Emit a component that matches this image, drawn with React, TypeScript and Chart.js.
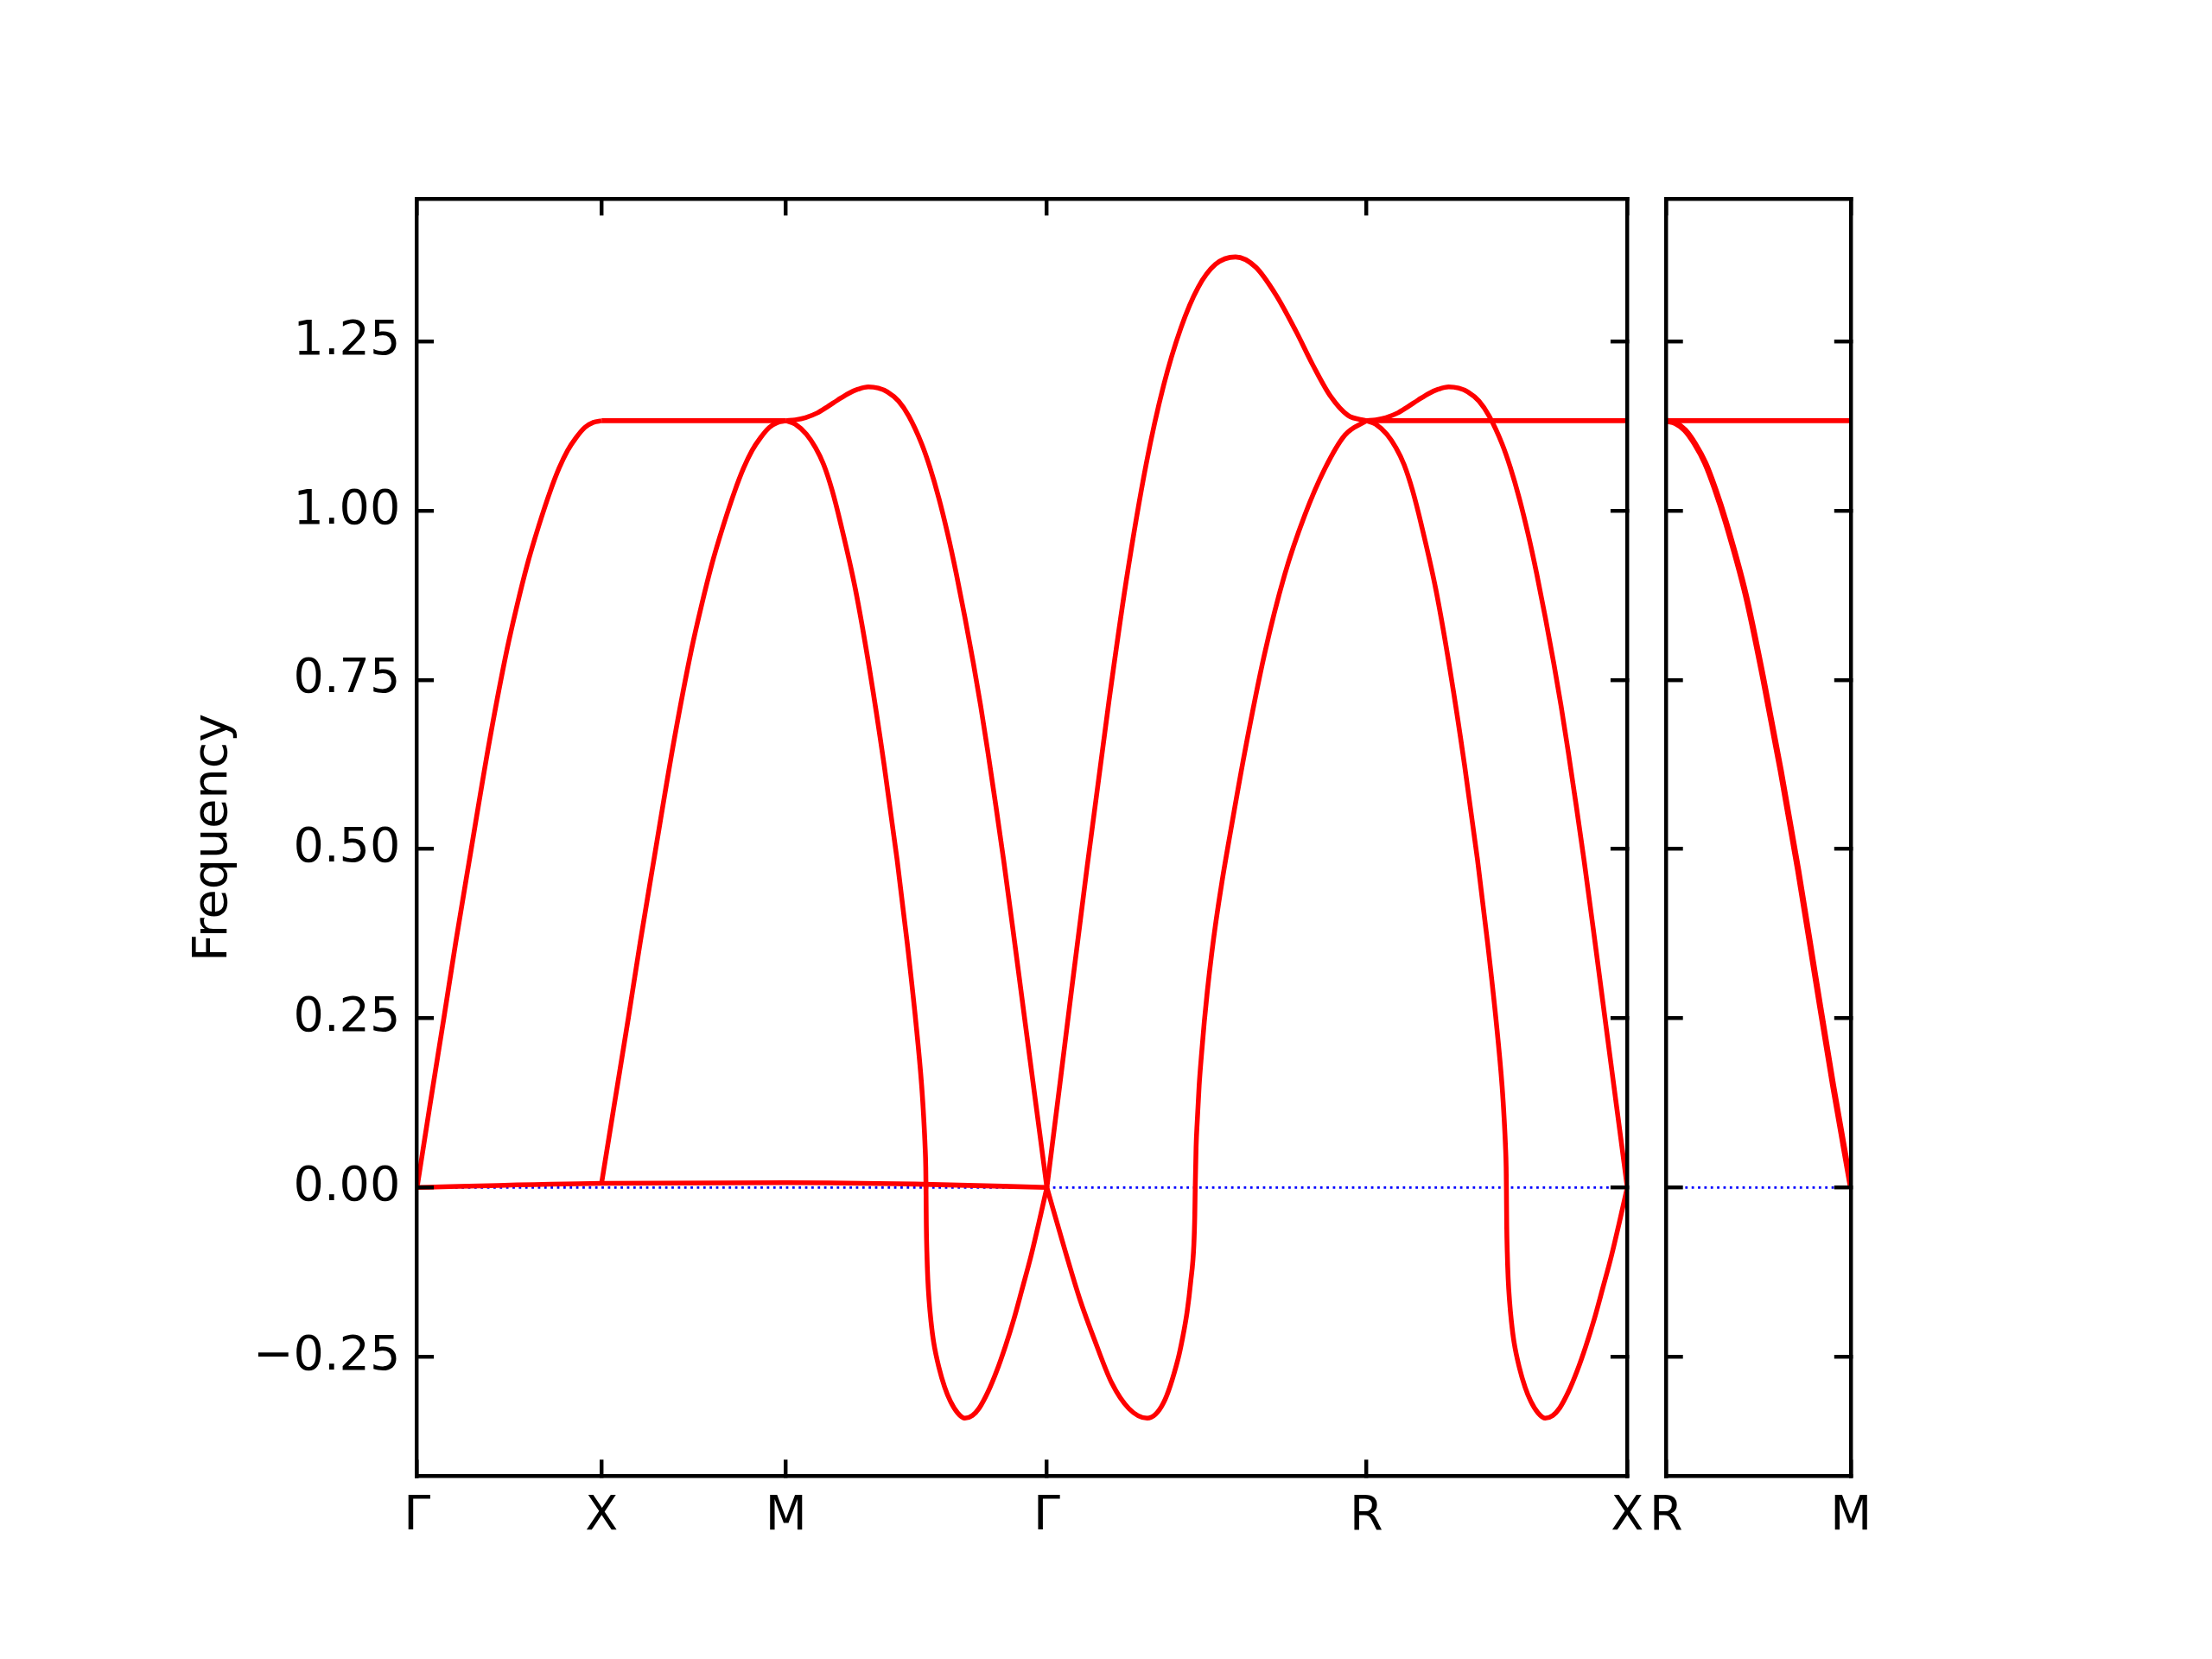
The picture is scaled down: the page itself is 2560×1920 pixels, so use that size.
import { useEffect, useRef } from 'react';
import { Chart, registerables } from 'chart.js';

Chart.register(...registerables);

// ---------------- path ticks (cumulative |k| along the path) ----------------
const mainTickPos = [0, 1, 2, 3.4142, 5.1463, 6.5605];
const mainTickLabels = ['Γ', 'X', 'M', 'Γ', 'R', 'X'];
const sideTickPos = [0, 1];
const sideTickLabels = ['R', 'M'];

// ---------------- frequency axis ----------------
const freqMin = -0.427;
const freqMax = 1.461;
const freqStep = 0.25;
const freqTitle = 'Frequency';

// ---------------- bands: Γ → X ----------------
const gxRiseK = [0, 0.07, 0.145, 0.21, 0.28, 0.394, 0.4875, 0.54, 0.597, 0.66, 0.722, 0.77, 0.816, 0.862, 0.909, 0.955, 1];
const gxRiseF = [0, 0.122, 0.25, 0.363, 0.478, 0.662, 0.795, 0.858, 0.92, 0.978, 1.029, 1.063, 1.089, 1.108, 1.123, 1.1305, 1.133];

// near-zero band Γ → X → M → Γ
const lowBandK = [0, 1, 2, 2.7, 3.4142];
const lowBandF = [0, 0.006, 0.007, 0.005, 0];

// ---------------- bands: X → M ----------------
const xmFlatK = [1, 2];
const xmFlatF = [1.133, 1.133];
const xmRiseK = [1, 1.07, 1.145, 1.21, 1.28, 1.394, 1.4875, 1.54, 1.597, 1.66, 1.722, 1.77, 1.816, 1.862, 1.909, 1.955, 2];
const xmRiseF = [0.006, 0.124, 0.25, 0.363, 0.478, 0.662, 0.795, 0.858, 0.92, 0.978, 1.029, 1.063, 1.089, 1.108, 1.123, 1.1305, 1.133];

// ---------------- bands: M → Γ ----------------
const mgBumpK = [2, 2.05, 2.106, 2.17, 2.224, 2.28, 2.34, 2.39, 2.446, 2.5, 2.55, 2.61, 2.665, 2.735, 2.78, 2.829, 2.876, 2.923, 2.97, 3.016, 3.055, 3.094, 3.137, 3.18, 3.238, 3.3, 3.36, 3.4142];
const mgBumpF = [1.133, 1.1343, 1.1376, 1.1445, 1.1535, 1.1635, 1.1735, 1.1795, 1.183, 1.1812, 1.1755, 1.162, 1.14, 1.099, 1.064, 1.018, 0.966, 0.907, 0.842, 0.774, 0.712, 0.644, 0.565, 0.483, 0.365, 0.236, 0.112, 0];
const mgDipK = [2, 2.05, 2.1105, 2.16, 2.2042, 2.25, 2.2979, 2.3761, 2.4543, 2.5321, 2.6023, 2.6571, 2.704, 2.7354, 2.747, 2.754, 2.7575, 2.7588, 2.7605, 2.7635, 2.7685, 2.776, 2.786, 2.8, 2.829, 2.86, 2.8913, 2.93, 2.9696, 3.01, 3.0473, 3.095, 3.141, 3.19, 3.2347, 3.28, 3.3283, 3.37, 3.4142];
const mgDipF = [1.133, 1.128, 1.113, 1.093, 1.068, 1.03, 0.979, 0.884, 0.763, 0.624, 0.484, 0.361, 0.244, 0.15, 0.1, 0.06, 0.03, 0, -0.055, -0.095, -0.135, -0.168, -0.198, -0.228, -0.266, -0.295, -0.316, -0.333, -0.341, -0.337, -0.326, -0.302, -0.272, -0.234, -0.195, -0.15, -0.101, -0.053, 0];

// ---------------- bands: Γ → R ----------------
const grPeakK = [3.4142, 3.4848, 3.5471, 3.6328, 3.7499, 3.8435, 3.9532, 4.0468, 4.1405, 4.2342, 4.3279, 4.437, 4.5461, 4.6557, 4.7649, 4.8585, 4.9522, 5.0459, 5.1463];
const grPeakF = [0, 0.153, 0.29, 0.475, 0.717, 0.895, 1.07, 1.185, 1.27, 1.33, 1.364, 1.375, 1.36, 1.319, 1.265, 1.214, 1.169, 1.141, 1.133];
const grDipK = [3.4142, 3.5157, 3.5939, 3.6721, 3.7658, 3.8595, 3.9578, 4.0468, 4.1246, 4.15, 4.1747, 4.1935, 4.2108, 4.216, 4.2183, 4.223, 4.2291, 4.2394, 4.2525, 4.2675, 4.2839, 4.3073, 4.3307, 4.3635, 4.4009, 4.4866, 4.593, 4.7026, 4.8117, 4.9208, 5.0304, 5.1463];
const grDipF = [0, -0.096, -0.166, -0.225, -0.289, -0.327, -0.341, -0.318, -0.254, -0.222, -0.183, -0.14, -0.085, -0.04, 0, 0.06, 0.097, 0.15, 0.197, 0.245, 0.29, 0.345, 0.393, 0.452, 0.512, 0.643, 0.787, 0.905, 0.993, 1.062, 1.112, 1.133];

// ---------------- bands: R → X ----------------
const rxFlatK = [5.1463, 6.5605];
const rxFlatF = [1.133, 1.133];
const rxBumpK = [5.1463, 5.1963, 5.2523, 5.3163, 5.3703, 5.4263, 5.4863, 5.5363, 5.5923, 5.6463, 5.6963, 5.7563, 5.8113, 5.8813, 5.9263, 5.9753, 6.0223, 6.0693, 6.1163, 6.1623, 6.2013, 6.2403, 6.2833, 6.3263, 6.3843, 6.4463, 6.5063, 6.5605];
const rxBumpF = [1.133, 1.1343, 1.1376, 1.1445, 1.1535, 1.1635, 1.1735, 1.1795, 1.183, 1.1812, 1.1755, 1.162, 1.14, 1.099, 1.064, 1.018, 0.966, 0.907, 0.842, 0.774, 0.712, 0.644, 0.565, 0.483, 0.365, 0.236, 0.112, 0];
const rxDipK = [5.1463, 5.1963, 5.2568, 5.3063, 5.3505, 5.3963, 5.4442, 5.5224, 5.6006, 5.6784, 5.7486, 5.8034, 5.8503, 5.8817, 5.8933, 5.9003, 5.9038, 5.9051, 5.9068, 5.9098, 5.9148, 5.9223, 5.9323, 5.9463, 5.9753, 6.0063, 6.0376, 6.0763, 6.1159, 6.1563, 6.1936, 6.2413, 6.2873, 6.3363, 6.381, 6.4263, 6.4746, 6.5163, 6.5605];
const rxDipF = [1.133, 1.128, 1.113, 1.093, 1.068, 1.03, 0.979, 0.884, 0.763, 0.624, 0.484, 0.361, 0.244, 0.15, 0.1, 0.06, 0.03, 0, -0.055, -0.095, -0.135, -0.168, -0.198, -0.228, -0.266, -0.295, -0.316, -0.333, -0.341, -0.337, -0.326, -0.302, -0.272, -0.234, -0.195, -0.15, -0.101, -0.053, 0];

// ---------------- bands: R → M (side panel) ----------------
const rmFlatK = [0, 1];
const rmFlatF = [1.133, 1.133];
const rmFallK = [0, 0.05, 0.102, 0.155, 0.212, 0.265, 0.322, 0.432, 0.526, 0.62, 0.714, 0.808, 0.903, 1];
const rmFallF = [1.133, 1.1295, 1.119, 1.099, 1.07, 1.032, 0.984, 0.874, 0.751, 0.616, 0.469, 0.31, 0.151, 0];

// ---------------- layout & style ----------------
const W = 2560;
const H = 1920;
const FRAME_MAIN = { left: 482.7, right: 1883.3, top: 230, bottom: 1708.7 };
const FRAME_SIDE = { left: 1928.3, right: 2142.2, top: 230, bottom: 1708.7 };
const FONT = { family: "'DejaVu Sans', sans-serif", size: 55.6 };
const SPINE_W = 4.44;
const TICK_LEN = 19.4;
const TICK_W = 4.44;
const LINE_W = 5.56;
const LINE_W_THICK = 7;
const RED = '#ff0000';
const BLUE = '#0000ff';
const ZERO_W = 2.78;
const ZERO_DASH = [2.78, 4.58];
const Y_LABEL_PAD = 38.8;
const X_LABEL_PAD = 33;
const TITLE_PAD = 214;

const toPts = (k: number[], f: number[]) => k.map((x, i) => ({ x, y: f[i] }));

const redLine = (k: number[], f: number[], width: number = LINE_W) => ({
  data: toPts(k, f),
  borderColor: RED,
  borderWidth: width,
  pointRadius: 0,
  fill: false,
  cubicInterpolationMode: 'monotone',
  borderJoinStyle: 'round',
  order: 0,
});

const zeroLine = (kMax: number) => ({
  data: [{ x: 0, y: 0 }, { x: kMax, y: 0 }],
  borderColor: BLUE,
  borderWidth: ZERO_W,
  borderDash: ZERO_DASH,
  pointRadius: 0,
  fill: false,
  tension: 0,
  order: 1,
});

const fmtFreq = (v: number | string) => {
  const s = Number(v).toFixed(2);
  return s.startsWith('-') ? '\u2212' + s.slice(1) : s;
};

function makeConfig(
  frame: { left: number; right: number; top: number; bottom: number },
  tickPos: number[],
  tickLabels: string[],
  datasets: any[],
  showY: boolean
): any {
  const kMax = tickPos[tickPos.length - 1];
  const grid = () => ({
    display: true,
    drawOnChartArea: false,
    drawTicks: true,
    tickLength: -TICK_LEN,
    color: '#000',
    lineWidth: TICK_W,
    z: 1,
  });
  const border = () => ({ display: true, color: '#000', width: SPINE_W, z: 1 });
  const setKTicks = (s: any) => {
    s.ticks = tickPos.map((v) => ({ value: v }));
  };
  return {
    type: 'line',
    data: { datasets },
    options: {
      responsive: false,
      animation: false,
      devicePixelRatio: 1,
      events: [],
      layout: { padding: 0 },
      plugins: { legend: { display: false }, tooltip: { enabled: false }, title: { display: false } },
      scales: {
        x: {
          type: 'linear',
          position: 'bottom',
          min: 0,
          max: kMax,
          grid: grid(),
          border: border(),
          afterBuildTicks: setKTicks,
          afterFit: (s: any) => {
            s.height = H - frame.bottom;
          },
          ticks: {
            autoSkip: false,
            maxRotation: 0,
            minRotation: 0,
            padding: X_LABEL_PAD,
            color: '#000',
            font: FONT,
            callback: (_v: any, i: number) => tickLabels[i] ?? '',
          },
        },
        xTop: {
          type: 'linear',
          position: 'top',
          min: 0,
          max: kMax,
          grid: grid(),
          border: border(),
          afterBuildTicks: setKTicks,
          afterFit: (s: any) => {
            s.height = frame.top;
          },
          ticks: { display: false, autoSkip: false },
        },
        y: {
          type: 'linear',
          position: 'left',
          min: freqMin,
          max: freqMax,
          grid: grid(),
          border: border(),
          afterFit: (s: any) => {
            s.width = frame.left;
          },
          ticks: {
            display: showY,
            stepSize: freqStep,
            includeBounds: false,
            autoSkip: false,
            padding: Y_LABEL_PAD,
            color: '#000',
            font: FONT,
            callback: fmtFreq,
          },
          title: {
            display: showY,
            text: freqTitle,
            color: '#000',
            font: FONT,
            padding: { top: TITLE_PAD, bottom: 0 },
          },
        },
        yRight: {
          type: 'linear',
          position: 'right',
          min: freqMin,
          max: freqMax,
          grid: grid(),
          border: border(),
          afterFit: (s: any) => {
            s.width = W - frame.right;
          },
          ticks: { display: false, stepSize: freqStep, includeBounds: false, autoSkip: false },
        },
      },
    },
  };
}

const mainConfig = () =>
  makeConfig(
    FRAME_MAIN,
    mainTickPos,
    mainTickLabels,
    [
      redLine(gxRiseK, gxRiseF),
      redLine(lowBandK, lowBandF),
      redLine(xmFlatK, xmFlatF),
      redLine(xmRiseK, xmRiseF),
      redLine(mgBumpK, mgBumpF),
      redLine(mgDipK, mgDipF),
      redLine(grPeakK, grPeakF),
      redLine(grDipK, grDipF),
      redLine(rxFlatK, rxFlatF),
      redLine(rxBumpK, rxBumpF),
      redLine(rxDipK, rxDipF),
      zeroLine(mainTickPos[mainTickPos.length - 1]),
    ],
    true
  );

const sideConfig = () =>
  makeConfig(
    FRAME_SIDE,
    sideTickPos,
    sideTickLabels,
    [
      redLine(rmFlatK, rmFlatF),
      redLine(rmFallK, rmFallF, LINE_W_THICK),
      zeroLine(sideTickPos[sideTickPos.length - 1]),
    ],
    false
  );

function BandCanvas({ build }: { build: () => any }) {
  const ref = useRef<HTMLCanvasElement>(null);
  useEffect(() => {
    if (!ref.current) return;
    const chart = new Chart(ref.current, build());
    return () => chart.destroy();
  }, [build]);
  return (
    <canvas
      ref={ref}
      width={W}
      height={H}
      style={{ position: 'absolute', left: 0, top: 0, width: W, height: H }}
    />
  );
}

export default function App() {
  return (
    <div
      style={{
        position: 'fixed',
        left: 0,
        top: 0,
        width: W,
        height: H,
        background: '#ffffff',
        overflow: 'hidden',
      }}
    >
      <BandCanvas build={mainConfig} />
      <BandCanvas build={sideConfig} />
    </div>
  );
}
